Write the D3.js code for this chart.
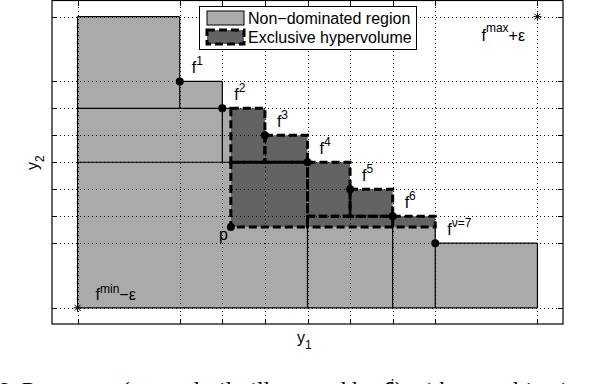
<!DOCTYPE html>
<html>
<head>
<meta charset="utf-8">
<script src="https://cdn.jsdelivr.net/npm/d3@7.9.0/dist/d3.min.js"></script>
<style>
  body { margin: 0; background: #fff; }
  svg { display: block; font-family: "Liberation Sans", Arial, sans-serif; }
</style>
</head>
<body>
<svg id="chart" width="592" height="384"></svg>
<script>
// tick / grid positions (same on both axes)
const tickValues = [0, 2.4, 3.4, 4.4, 5.4, 6.4, 7.4, 8.4, 10.8];

// Pareto set f^1 .. f^7
const pareto = [
  { name: '1', y1: 2.4, y2: 8.4 },
  { name: '2', y1: 3.4, y2: 7.4 },
  { name: '3', y1: 4.4, y2: 6.4 },
  { name: '4', y1: 5.4, y2: 5.4 },
  { name: '5', y1: 6.4, y2: 4.4 },
  { name: '6', y1: 7.4, y2: 3.4 },
  { name: 'ν=7', y1: 8.4, y2: 2.4 }
];
const pointP = { y1: 3.6, y2: 3.0 };
const fMin = { y1: 0, y2: 0 };
const fMax = { y1: 10.8, y2: 10.8 };

// outline of the non-dominated (light) region
const lightRegion = [
  [0, 0], [0, 10.8], [2.4, 10.8], [2.4, 8.4], [3.4, 8.4], [3.4, 7.4],
  [3.6, 7.4], [3.6, 3.0], [8.4, 3.0], [8.4, 2.4], [10.8, 2.4], [10.8, 0]
];
// solid edges visible in the light region [x0, y0, x1, y1]
const solidEdges = [
  [0, 0, 0, 10.8], [0, 10.8, 2.4, 10.8], [2.4, 7.4, 2.4, 10.8],
  [2.4, 8.4, 3.4, 8.4], [3.4, 5.4, 3.4, 8.4], [0, 7.4, 3.6, 7.4],
  [0, 5.4, 3.6, 5.4], [0, 0, 10.8, 0], [10.8, 0, 10.8, 2.4],
  [8.4, 2.4, 10.8, 2.4], [8.4, 0, 8.4, 3.0], [7.4, 0, 7.4, 3.0],
  [5.4, 0, 5.4, 3.0]
];
// exclusive hypervolume boxes [x0, x1, y0, y1]
const exclusiveBoxes = [
  [3.6, 4.4, 5.4, 7.4],
  [4.4, 5.4, 5.4, 6.4],
  [3.6, 5.4, 3.0, 5.4],
  [5.4, 6.4, 3.4, 5.4],
  [6.4, 7.4, 3.4, 4.4],
  [5.4, 7.4, 3.0, 3.4],
  [7.4, 8.4, 3.0, 3.4]
];
const legendLabels = ['Non\u2212dominated region', 'Exclusive hypervolume'];

const lightGray = '#aaaaaa';
const darkGray = '#636363';

const svg = d3.select('#chart');
const mLeft = 52, mRight = 563, mTop = 0.5, mBottom = 324;

const x = d3.scaleLinear().domain([-0.6, 11.4]).range([mLeft, mRight]);
const y = d3.scaleLinear().domain([-0.6, 11.4]).range([mBottom, mTop]);

// light region
svg.append('path')
  .attr('d', d3.line().x(d => x(d[0])).y(d => y(d[1]))(lightRegion) + 'Z')
  .attr('fill', lightGray);

// dark boxes (fill)
svg.append('g').selectAll('rect').data(exclusiveBoxes).join('rect')
  .attr('x', d => x(d[0])).attr('y', d => y(d[3]))
  .attr('width', d => x(d[1]) - x(d[0])).attr('height', d => y(d[2]) - y(d[3]))
  .attr('fill', darkGray);

// dotted grid
const gridX = svg.append('g').attr('transform', `translate(0,${mBottom})`)
  .call(d3.axisBottom(x).tickValues(tickValues).tickSize(-(mBottom - mTop)).tickFormat(''));
const gridY = svg.append('g').attr('transform', `translate(${mLeft},0)`)
  .call(d3.axisLeft(y).tickValues(tickValues).tickSize(-(mRight - mLeft)).tickFormat(''));
[gridX, gridY].forEach(g => {
  g.select('.domain').remove();
  g.selectAll('line').attr('stroke', '#000').attr('stroke-width', 1)
    .attr('stroke-dasharray', '1,3').attr('shape-rendering', 'crispEdges');
});

// solid edges
svg.append('g').selectAll('line').data(solidEdges).join('line')
  .attr('x1', d => x(d[0])).attr('y1', d => y(d[1]))
  .attr('x2', d => x(d[2])).attr('y2', d => y(d[3]))
  .attr('stroke', '#000').attr('stroke-width', 1.2);

// dashed outlines of exclusive boxes
svg.append('g').selectAll('rect').data(exclusiveBoxes).join('rect')
  .attr('x', d => x(d[0])).attr('y', d => y(d[3]))
  .attr('width', d => x(d[1]) - x(d[0])).attr('height', d => y(d[2]) - y(d[3]))
  .attr('fill', 'none').attr('stroke', '#000').attr('stroke-width', 3)
  .attr('stroke-dasharray', '8,4');

// axes box with inner ticks
const axes = [
  [d3.axisBottom(x), `translate(0,${mBottom})`],
  [d3.axisTop(x), `translate(0,${mTop})`],
  [d3.axisLeft(y), `translate(${mLeft},0)`],
  [d3.axisRight(y), `translate(${mRight},0)`]
];
axes.forEach(([ax, tr]) => {
  const g = svg.append('g').attr('transform', tr)
    .call(ax.tickValues(tickValues).tickSize(-5).tickSizeOuter(0).tickFormat(''));
  g.select('.domain').remove();
  g.selectAll('line').attr('stroke', '#000').attr('shape-rendering', 'crispEdges');
});
svg.append('rect')
  .attr('x', mLeft).attr('y', mTop).attr('width', mRight - mLeft).attr('height', mBottom - mTop)
  .attr('fill', 'none').attr('stroke', '#000').attr('stroke-width', 1.2);

// points
svg.append('g').selectAll('circle').data(pareto.concat([pointP])).join('circle')
  .attr('cx', d => x(d.y1)).attr('cy', d => y(d.y2)).attr('r', 4).attr('fill', '#000');

// star markers for fmin / fmax
[fMin, fMax].forEach(d => {
  const cx = x(d.y1), cy = y(d.y2), s = 4;
  const g = svg.append('g').attr('stroke', '#000').attr('stroke-width', 1);
  g.append('line').attr('x1', cx - s).attr('x2', cx + s).attr('y1', cy).attr('y2', cy);
  g.append('line').attr('x1', cx).attr('x2', cx).attr('y1', cy - s).attr('y2', cy + s);
  g.append('line').attr('x1', cx - 3).attr('x2', cx + 3).attr('y1', cy - 3).attr('y2', cy + 3);
  g.append('line').attr('x1', cx - 3).attr('x2', cx + 3).attr('y1', cy + 3).attr('y2', cy - 3);
});

// point labels f^j
pareto.forEach(d => {
  const t = svg.append('text')
    .attr('x', x(d.y1) + 12).attr('y', y(d.y2) - 8)
    .attr('font-size', 16);
  t.append('tspan').text('f');
  t.append('tspan').attr('dy', -8).attr('font-size', 12).text(d.name);
});
svg.append('text').attr('x', x(pointP.y1) - 3).attr('y', y(pointP.y2) + 13)
  .attr('text-anchor', 'end').attr('font-size', 16).text('p');

const minLbl = svg.append('text').attr('x', x(fMin.y1) + 18).attr('y', y(fMin.y2) - 8).attr('font-size', 16);
minLbl.append('tspan').text('f');
minLbl.append('tspan').attr('dy', -7).attr('font-size', 12).text('min');
minLbl.append('tspan').attr('dy', 7).text('\u2212\u03b5');

const maxLbl = svg.append('text').attr('x', x(fMax.y1) - 56).attr('y', y(fMax.y2) + 24).attr('font-size', 16);
maxLbl.append('tspan').text('f');
maxLbl.append('tspan').attr('dy', -9).attr('font-size', 12).text('max');
maxLbl.append('tspan').attr('dy', 9).text('+\u03b5');

// axis labels
const xl = svg.append('text').attr('x', 297).attr('y', 343).attr('font-size', 16);
xl.append('tspan').text('y');
xl.append('tspan').attr('dy', 6).attr('font-size', 12).text('1');
const yl = svg.append('text').attr('transform', 'translate(38,170) rotate(-90)').attr('font-size', 16);
yl.append('tspan').text('y');
yl.append('tspan').attr('dy', 6).attr('font-size', 12).text('2');

// legend
const lg = svg.append('g');
lg.append('rect').attr('x', 199.5).attr('y', 6.5).attr('width', 217).attr('height', 43)
  .attr('fill', '#fff').attr('stroke', '#000').attr('stroke-width', 1);
legendLabels.forEach((label, i) => {
  const sy = 11 + i * 19;
  const sw = lg.append('rect').attr('x', 207).attr('y', sy).attr('width', 37).attr('height', 14);
  if (i === 0) {
    sw.attr('fill', lightGray).attr('stroke', '#000').attr('stroke-width', 1);
  } else {
    sw.attr('fill', darkGray).attr('stroke', '#000').attr('stroke-width', 3).attr('stroke-dasharray', '8,4');
  }
  lg.append('text').attr('x', 248).attr('y', sy + 13).attr('font-size', 16).text(label);
});

// caption (clipped by the page bottom, as in the source figure)
const cap = svg.append('text').attr('x', -3).attr('y', 397.5)
  .attr('font-family', '"Liberation Serif", "Times New Roman", serif').attr('font-size', 24);
cap.append('tspan').text('6:  Pareto set (exemplarily illustrated by ');
cap.append('tspan').attr('font-weight', 'bold').attr('font-style', 'italic').text('f');
cap.append('tspan').attr('dy', -8).attr('font-size', 16).text('j');
cap.append('tspan').attr('dy', 8).text(') with two-objective');
</script>
</body>
</html>
